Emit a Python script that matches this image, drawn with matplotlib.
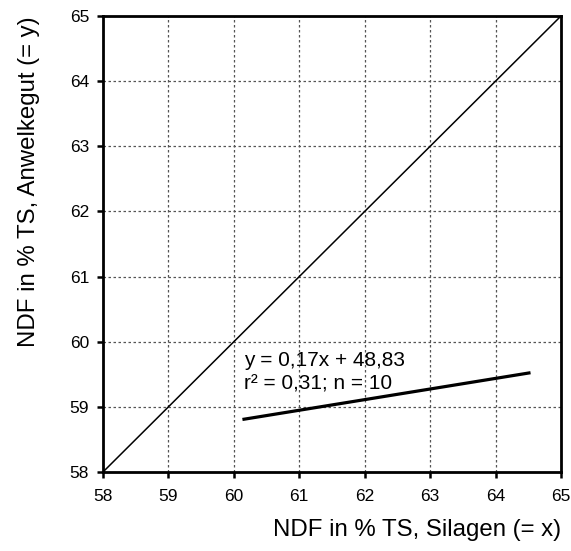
import numpy as np
import matplotlib.pyplot as plt

plt.rcParams["font.family"] = ["Liberation Sans", "DejaVu Sans"]

# axis ranges / ticks
ticks = [58, 59, 60, 61, 62, 63, 64, 65]

# 1:1 line
diag_x = [58, 65]
diag_y = [58, 65]

# regression line endpoints
reg_x = [60.155, 64.51]
reg_y = [58.81, 59.52]

eq_line1 = "y = 0,17x + 48,83"
eq_line2 = "r² = 0,31; n = 10"

fig = plt.figure(figsize=(5.71, 5.51), dpi=100)
ax = fig.add_axes([0.1804, 0.1434, 0.8021, 0.8276])

ax.plot(diag_x, diag_y, color="black", linewidth=1.1, zorder=3)
ax.plot(reg_x, reg_y, color="black", linewidth=2.3, zorder=4)

ax.text(60.155, 59.63, eq_line1, fontsize=15, ha="left", va="baseline", zorder=5)
ax.text(60.155, 59.27, eq_line2, fontsize=15, ha="left", va="baseline", zorder=5)

ax.set_xlim(58, 65)
ax.set_ylim(58, 65)
ax.set_xticks(ticks)
ax.set_yticks(ticks)
ax.tick_params(axis="both", direction="out", length=4, width=1.8,
               labelsize=12.5)
ax.tick_params(axis="x", pad=8)
ax.tick_params(axis="y", pad=6)

ax.grid(True, linestyle=(0, (2, 2)), color="#555555", linewidth=0.9)
ax.set_axisbelow(True)

for side in ["left", "bottom", "top", "right"]:
    ax.spines[side].set_linewidth(2.0)

ax.set_ylabel("NDF in % TS, Anwelkegut (= y)", fontsize=17.3, labelpad=21,
              loc="top")
ax.set_xlabel("NDF in % TS, Silagen (= x)", fontsize=17.3, labelpad=11,
              loc="right")

plt.savefig("out.png", dpi=100)
plt.close()
